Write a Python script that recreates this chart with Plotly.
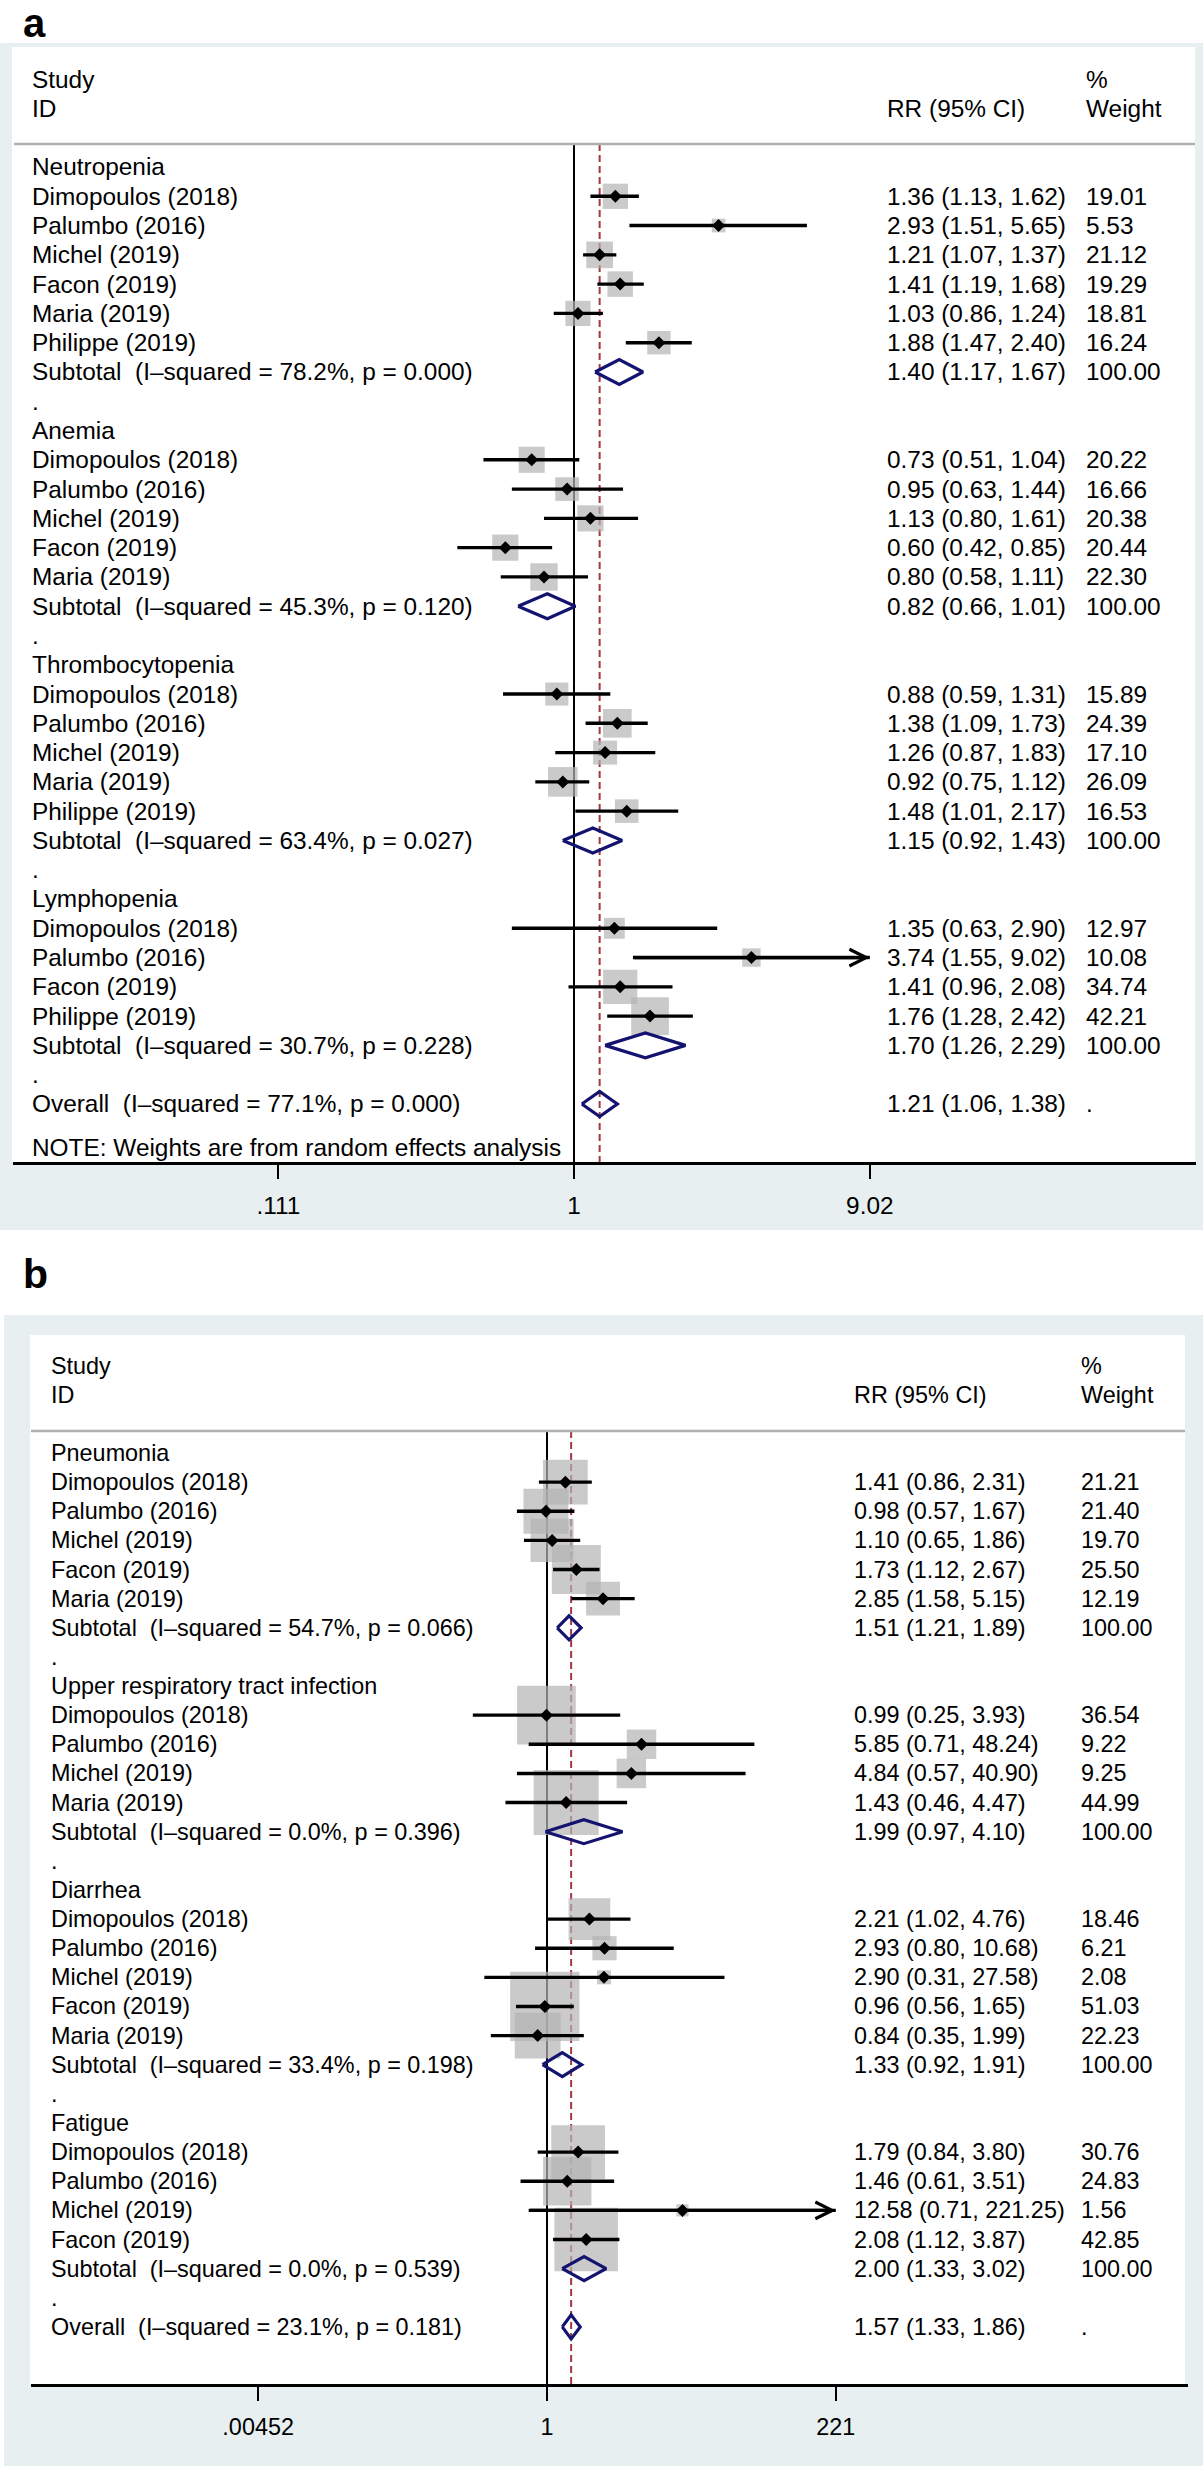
import math
import plotly.graph_objects as go

# ---------------- panel a: haematological events ----------------
a_subgroups = ["Neutropenia", "Anemia", "Thrombocytopenia", "Lymphopenia"]
a_group = (["Neutropenia"] * 6 + ["Anemia"] * 5
           + ["Thrombocytopenia"] * 5 + ["Lymphopenia"] * 4)
a_study = ["Dimopoulos (2018)", "Palumbo (2016)", "Michel (2019)", "Facon (2019)", "Maria (2019)", "Philippe (2019)",
           "Dimopoulos (2018)", "Palumbo (2016)", "Michel (2019)", "Facon (2019)", "Maria (2019)",
           "Dimopoulos (2018)", "Palumbo (2016)", "Michel (2019)", "Maria (2019)", "Philippe (2019)",
           "Dimopoulos (2018)", "Palumbo (2016)", "Facon (2019)", "Philippe (2019)"]
a_rr = [1.36, 2.93, 1.21, 1.41, 1.03, 1.88, 0.73, 0.95, 1.13, 0.60, 0.80,
        0.88, 1.38, 1.26, 0.92, 1.48, 1.35, 3.74, 1.41, 1.76]
a_lo = [1.13, 1.51, 1.07, 1.19, 0.86, 1.47, 0.51, 0.63, 0.80, 0.42, 0.58,
        0.59, 1.09, 0.87, 0.75, 1.01, 0.63, 1.55, 0.96, 1.28]
a_hi = [1.62, 5.65, 1.37, 1.68, 1.24, 2.40, 1.04, 1.44, 1.61, 0.85, 1.11,
        1.31, 1.73, 1.83, 1.12, 2.17, 2.90, 9.02, 2.08, 2.42]
a_wt = [19.01, 5.53, 21.12, 19.29, 18.81, 16.24, 20.22, 16.66, 20.38, 20.44, 22.30,
        15.89, 24.39, 17.10, 26.09, 16.53, 12.97, 10.08, 34.74, 42.21]
a_sub_rr = [1.40, 0.82, 1.15, 1.70]
a_sub_lo = [1.17, 0.66, 0.92, 1.26]
a_sub_hi = [1.67, 1.01, 1.43, 2.29]
a_sub_i2 = [78.2, 45.3, 63.4, 30.7]
a_sub_p = [0.000, 0.120, 0.027, 0.228]
a_overall = [1.21, 1.06, 1.38]
a_overall_i2 = 77.1
a_overall_p = 0.000
a_ticks = [0.111, 1, 9.02]
a_ticktext = [".111", "1", "9.02"]

# ---------------- panel b: infections / other events ----------------
b_subgroups = ["Pneumonia", "Upper respiratory tract infection", "Diarrhea", "Fatigue"]
b_group = (["Pneumonia"] * 5 + ["Upper respiratory tract infection"] * 4
           + ["Diarrhea"] * 5 + ["Fatigue"] * 4)
b_study = ["Dimopoulos (2018)", "Palumbo (2016)", "Michel (2019)", "Facon (2019)", "Maria (2019)",
           "Dimopoulos (2018)", "Palumbo (2016)", "Michel (2019)", "Maria (2019)",
           "Dimopoulos (2018)", "Palumbo (2016)", "Michel (2019)", "Facon (2019)", "Maria (2019)",
           "Dimopoulos (2018)", "Palumbo (2016)", "Michel (2019)", "Facon (2019)"]
b_rr = [1.41, 0.98, 1.10, 1.73, 2.85, 0.99, 5.85, 4.84, 1.43,
        2.21, 2.93, 2.90, 0.96, 0.84, 1.79, 1.46, 12.58, 2.08]
b_lo = [0.86, 0.57, 0.65, 1.12, 1.58, 0.25, 0.71, 0.57, 0.46,
        1.02, 0.80, 0.31, 0.56, 0.35, 0.84, 0.61, 0.71, 1.12]
b_hi = [2.31, 1.67, 1.86, 2.67, 5.15, 3.93, 48.24, 40.90, 4.47,
        4.76, 10.68, 27.58, 1.65, 1.99, 3.80, 3.51, 221.25, 3.87]
b_wt = [21.21, 21.40, 19.70, 25.50, 12.19, 36.54, 9.22, 9.25, 44.99,
        18.46, 6.21, 2.08, 51.03, 22.23, 30.76, 24.83, 1.56, 42.85]
b_sub_rr = [1.51, 1.99, 1.33, 2.00]
b_sub_lo = [1.21, 0.97, 0.92, 1.33]
b_sub_hi = [1.89, 4.10, 1.91, 3.02]
b_sub_i2 = [54.7, 0.0, 33.4, 0.0]
b_sub_p = [0.066, 0.396, 0.198, 0.539]
b_overall = [1.57, 1.33, 1.86]
b_overall_i2 = 23.1
b_overall_p = 0.181
b_ticks = [0.00452, 1, 221]
b_ticktext = [".00452", "1", "221"]

# ---------------- page geometry (pixels) ----------------
W, H = 1203, 2466
FONT = "Liberation Sans, Arial, Helvetica, sans-serif"
BG = "#e8eff1"
BOX = "#b4b4b4"
NAVY = "#141470"
RED = "#a33842"

geo_a = dict(left=13, right=1196, top=47, bottom=1162, one_px=574, px_ln=134.5,
             row1=167, row_h=29.28, box_k=5.8, font=24.4, name_x=31, rr_x=886, wt_x=1085,
             rule_x0=14, rule_x1=1195, rule_y=144, dia_h=12.5, note=True,
             bg=(0, 1203, 43, 1230), white=(12, 1195, 47, 1162))
geo_b = dict(left=31, right=1188, top=1335, bottom=2384, one_px=547, px_ln=53.5,
             row1=1453, row_h=29.13, box_k=9.7, font=23.4, name_x=50, rr_x=853, wt_x=1080,
             rule_x0=31, rule_x1=1185, rule_y=1431, dia_h=12.0, note=False,
             bg=(4, 1203, 1315, 2466), white=(30, 1185, 1335, 2384))

fig = go.Figure()
shapes, annotations = [], []


def ci_text(r, l, h):
    return f"{r:.2f} ({l:.2f}, {h:.2f})"


def add_panel(sfx, g, subgroups, group, study, rr, lo, hi, wt,
              s_rr, s_lo, s_hi, s_i2, s_p, overall, o_i2, o_p, ticks, ticktext):
    xa, ya = "x" + sfx, "y" + sfx
    ln10 = math.log(10)
    xr = [(g["left"] - g["one_px"]) / g["px_ln"] / ln10, (g["right"] - g["one_px"]) / g["px_ln"] / ln10]
    y_bot = 1 + (g["bottom"] - g["row1"]) / g["row_h"]
    y_top = 1 + (g["top"] - g["row1"]) / g["row_h"]
    rule_row = 1 + (g["rule_y"] - g["row1"]) / g["row_h"]

    # row bookkeeping
    rows_s, rows_h, rows_sub, rows_dot = [None] * len(study), [], [], []
    r = 1
    for sg in subgroups:
        rows_h.append(r)
        r += 1
        for i, gg in enumerate(group):
            if gg == sg:
                rows_s[i] = r
                r += 1
        rows_sub.append(r)
        rows_dot.append(r + 1)
        r += 2
    row_all = r

    # reference lines
    fig.add_trace(go.Scatter(x=[1, 1], y=[rule_row, y_bot], mode="lines",
                             line=dict(color="black", width=2), xaxis=xa, yaxis=ya,
                             hoverinfo="skip", showlegend=False))
    fig.add_trace(go.Scatter(x=[overall[0]] * 2, y=[rule_row, y_bot], mode="lines",
                             line=dict(color=RED, width=2, dash="7px,4px"), xaxis=xa, yaxis=ya,
                             hoverinfo="skip", showlegend=False))
    # weight boxes
    fig.add_trace(go.Scatter(x=rr, y=rows_s, mode="markers", xaxis=xa, yaxis=ya,
                             marker=dict(symbol="square", color=BOX,
                                         size=[g["box_k"] * math.sqrt(w) for w in wt],
                                         line=dict(width=0)),
                             hoverinfo="skip", showlegend=False))
    # confidence intervals
    xmax = max(ticks)
    cx, cy = [], []
    for l, h, ro in zip(lo, hi, rows_s):
        cx += [l, min(h, xmax), None]
        cy += [ro, ro, None]
        if h >= xmax:
            annotations.append(dict(x=math.log10(xmax), y=ro, xref=xa, yref=ya,
                                    ax=math.log10(l), ay=ro, axref=xa, ayref=ya,
                                    text="", showarrow=True, arrowhead=5, arrowsize=1,
                                    arrowwidth=3.3, arrowcolor="black"))
    fig.add_trace(go.Scatter(x=cx, y=cy, mode="lines", line=dict(color="black", width=3.4),
                             xaxis=xa, yaxis=ya, hoverinfo="skip", showlegend=False))
    # point estimates
    fig.add_trace(go.Scatter(x=rr, y=rows_s, mode="markers", xaxis=xa, yaxis=ya,
                             marker=dict(symbol="diamond", color="black", size=10, line=dict(width=0)),
                             hoverinfo="skip", showlegend=False))
    # pooled diamonds
    dh = g["dia_h"] / g["row_h"]
    dx, dy = [], []
    for e, l, h, ro in zip(s_rr + [overall[0]], s_lo + [overall[1]], s_hi + [overall[2]], rows_sub + [row_all]):
        dx += [l, e, h, e, l, None]
        dy += [ro, ro - dh, ro, ro + dh, ro, None]
    fig.add_trace(go.Scatter(x=dx, y=dy, mode="lines", line=dict(color=NAVY, width=3.2),
                             xaxis=xa, yaxis=ya, hoverinfo="skip", showlegend=False))

    # text columns
    def txt(xp, ro, s):
        annotations.append(dict(x=xp / W, xref="paper", y=ro, yref=ya, text=s, showarrow=False,
                                xanchor="left", yanchor="middle", borderpad=0,
                                font=dict(family=FONT, size=g["font"], color="black")))

    txt(g["name_x"], -2, "Study")
    txt(g["name_x"], -1, "ID")
    txt(g["rr_x"], -1, "RR (95% CI)")
    txt(g["wt_x"], -2, "%")
    txt(g["wt_x"], -1, "Weight")
    for k, sg in enumerate(subgroups):
        txt(g["name_x"], rows_h[k], sg)
        txt(g["name_x"], rows_sub[k], f"Subtotal  (I–squared = {s_i2[k]:.1f}%, p = {s_p[k]:.3f})")
        txt(g["rr_x"], rows_sub[k], ci_text(s_rr[k], s_lo[k], s_hi[k]))
        txt(g["wt_x"], rows_sub[k], "100.00")
        txt(g["name_x"], rows_dot[k], ".")
    for i in range(len(study)):
        txt(g["name_x"], rows_s[i], study[i])
        txt(g["rr_x"], rows_s[i], ci_text(rr[i], lo[i], hi[i]))
        txt(g["wt_x"], rows_s[i], f"{wt[i]:.2f}")
    txt(g["name_x"], row_all, f"Overall  (I–squared = {o_i2:.1f}%, p = {o_p:.3f})")
    txt(g["rr_x"], row_all, ci_text(*overall))
    txt(g["wt_x"], row_all, ".")
    if g["note"]:
        txt(g["name_x"], row_all + 1.5, "NOTE: Weights are from random effects analysis")

    # backgrounds and header rule
    x0, x1, y0, y1 = g["bg"]
    shapes.append(dict(type="rect", xref="paper", yref="paper", x0=x0 / W, x1=x1 / W,
                       y0=1 - y1 / H, y1=1 - y0 / H, fillcolor=BG, line=dict(width=0), layer="below"))
    x0, x1, y0, y1 = g["white"]
    shapes.append(dict(type="rect", xref="paper", yref="paper", x0=x0 / W, x1=x1 / W,
                       y0=1 - y1 / H, y1=1 - y0 / H, fillcolor="white", line=dict(width=0), layer="below"))
    shapes.append(dict(type="line", xref="paper", yref=ya, x0=g["rule_x0"] / W, x1=g["rule_x1"] / W,
                       y0=rule_row, y1=rule_row, line=dict(color="#b0b0b0", width=2.5)))

    axis_font = dict(family=FONT, size=g["font"], color="black")
    fig.update_layout({
        "xaxis" + sfx: dict(type="log", range=xr, domain=[g["left"] / W, g["right"] / W], anchor=ya,
                            showline=True, linecolor="black", linewidth=3, ticks="outside",
                            ticklen=14, tickwidth=2, tickcolor="black", tickvals=ticks,
                            ticktext=ticktext, tickfont=axis_font, showgrid=False,
                            zeroline=False, fixedrange=True, ticklabelstandoff=6),
        "yaxis" + sfx: dict(range=[y_bot, y_top], domain=[1 - g["bottom"] / H, 1 - g["top"] / H],
                            anchor=xa, visible=False, showgrid=False, zeroline=False, fixedrange=True),
    })


add_panel("", geo_a, a_subgroups, a_group, a_study, a_rr, a_lo, a_hi, a_wt,
          a_sub_rr, a_sub_lo, a_sub_hi, a_sub_i2, a_sub_p, a_overall, a_overall_i2, a_overall_p,
          a_ticks, a_ticktext)
add_panel("2", geo_b, b_subgroups, b_group, b_study, b_rr, b_lo, b_hi, b_wt,
          b_sub_rr, b_sub_lo, b_sub_hi, b_sub_i2, b_sub_p, b_overall, b_overall_i2, b_overall_p,
          b_ticks, b_ticktext)

# panel letters
annotations.append(dict(x=22 / W, y=1, xref="paper", yref="paper", text="<b>a</b>",
                        showarrow=False, xanchor="left", yanchor="top", borderpad=0,
                        font=dict(family=FONT, size=40, color="black")))
annotations.append(dict(x=22 / W, y=1 - 1274 / H, xref="paper", yref="paper", text="<b>b</b>",
                        showarrow=False, xanchor="left", yanchor="middle", borderpad=0,
                        font=dict(family=FONT, size=41, color="black")))

fig.update_layout(width=W, height=H, margin=dict(l=0, r=0, t=0, b=0),
                  paper_bgcolor="white", plot_bgcolor="rgba(0,0,0,0)",
                  shapes=shapes, annotations=annotations, showlegend=False)

fig.write_html("out.html", config={"displayModeBar": False},
               post_script="document.body.style.margin='0';")
